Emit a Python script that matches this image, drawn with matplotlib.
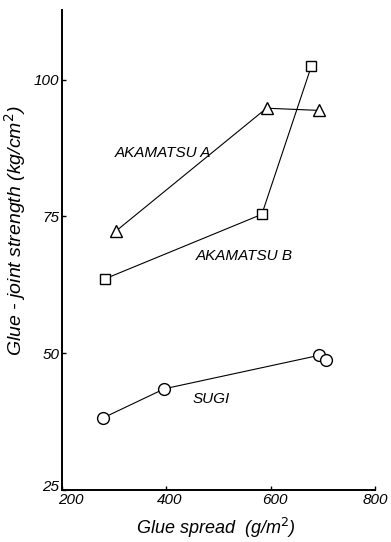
import matplotlib
matplotlib.use("Agg")
import matplotlib.pyplot as plt
from matplotlib.transforms import ScaledTranslation

# values
akamatsu_a_x = [304, 592, 692]
akamatsu_a_y = [72.4, 94.8, 94.4]
akamatsu_b_x = [282, 583, 678]
akamatsu_b_y = [63.6, 75.4, 102.5]
sugi_x = [279, 396, 692, 706]
sugi_y = [38.2, 43.5, 49.6, 48.7]

x_ticks = [200, 400, 600, 800]
y_ticks = [25, 50, 75, 100]

plt.rcParams['font.family'] = ['Liberation Sans', 'DejaVu Sans']

fig = plt.figure(figsize=(3.91, 5.42), dpi=100)
ax = fig.add_axes([0.159, 0.096, 0.8, 0.886])

line_kw = dict(color='black', lw=0.8, mfc='white', mec='black', mew=1.0)
ax.plot(akamatsu_a_x, akamatsu_a_y, marker='^', ms=8, **line_kw)
ax.plot(akamatsu_b_x, akamatsu_b_y, marker='s', ms=6.5, **line_kw)
ax.plot(sugi_x, sugi_y, marker='o', ms=8.5, **line_kw)

ax.text(300, 86.6, 'AKAMATSU A', fontsize=11, style='italic', ha='left', va='center')
ax.text(457, 67.7, 'AKAMATSU B', fontsize=11, style='italic', ha='left', va='center')
ax.text(450, 41.6, 'SUGI', fontsize=11, style='italic', ha='left', va='center')

ax.set_xlim(200, 800)
ax.set_ylim(25, 112.8)
ax.set_xticks(x_ticks)
ax.set_yticks(y_ticks)
ax.set_xticklabels([str(t) for t in x_ticks], style='italic', fontsize=11)
ax.set_yticklabels([str(t) for t in y_ticks], style='italic', fontsize=11)
ax.tick_params(direction='in', length=3, width=1, pad=2)

# nudge tick labels like the printed figure
for lab, dx in zip(ax.get_xticklabels(), [6, 2, 3, 0]):
    lab.set_transform(lab.get_transform() + ScaledTranslation(dx / 72, 0, fig.dpi_scale_trans))
ylabs = ax.get_yticklabels()
ylabs[0].set_transform(ylabs[0].get_transform() + ScaledTranslation(0, 3 / 72, fig.dpi_scale_trans))

for s in ['top', 'right']:
    ax.spines[s].set_visible(False)
for s in ['left', 'bottom']:
    ax.spines[s].set_linewidth(1.4)

ax.set_xlabel('Glue spread  (g/m$^2$)', style='italic', fontsize=13)
ax.set_ylabel('Glue - joint strength (kg/cm$^2$)', style='italic', fontsize=14)
ax.xaxis.set_label_coords(0.49, -0.055)
ax.yaxis.set_label_coords(-0.11, 0.54)

fig.savefig('out.png', dpi=100)
